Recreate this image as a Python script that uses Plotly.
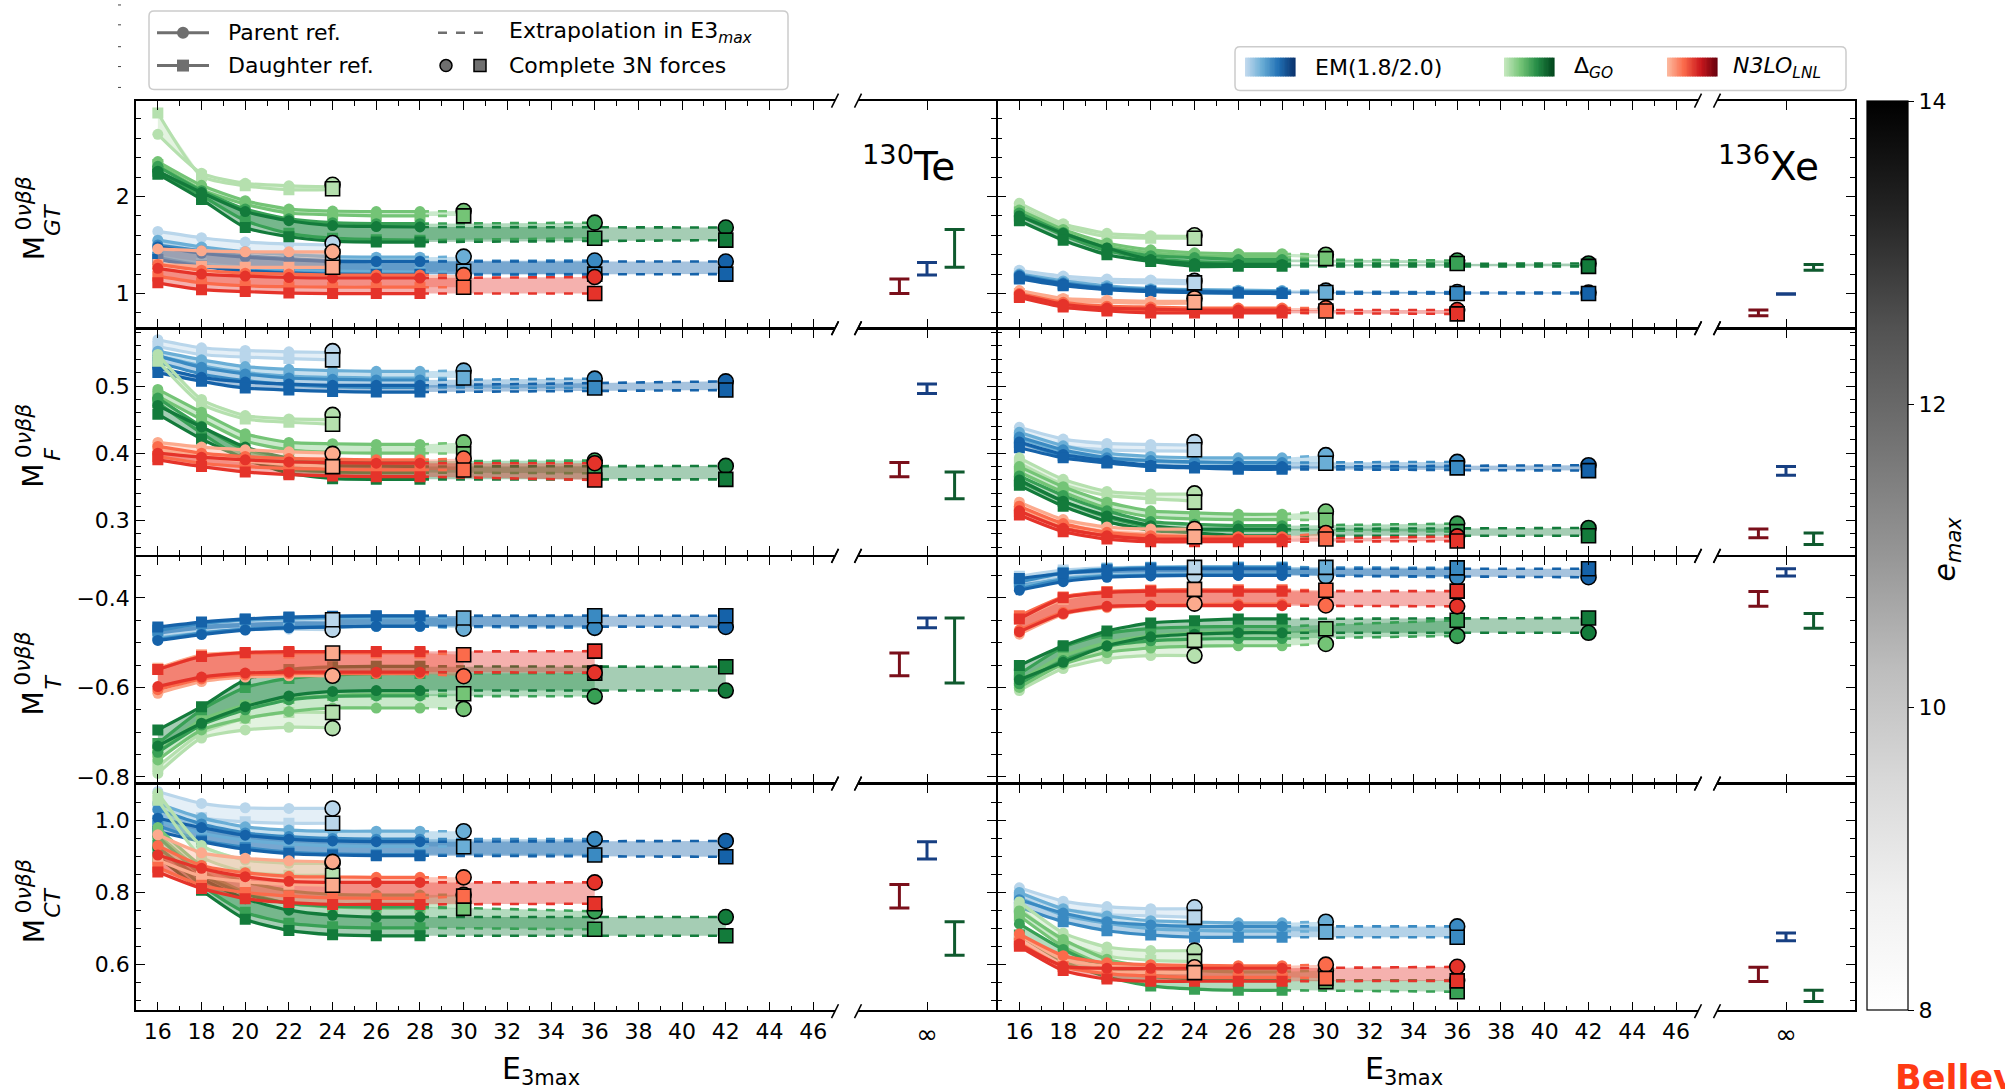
import plotly.graph_objects as go

W, H = 2005, 1089
FONT = "DejaVu Sans"

# ---------------- data ----------------
E3_GRID = [16, 18, 20, 22, 24, 26, 28]
EMAX_VALUES = [8, 10, 12, 14]

# 130Te  M_GT
TE_GT_EM_P = [[1.64, 1.575, 1.53, 1.51, 1.50],
              [1.55, 1.48, 1.43, 1.40, 1.38, 1.375, 1.375],
              [1.50, 1.44, 1.39, 1.36, 1.34, 1.335, 1.335],
              [1.48, 1.415, 1.375, 1.35, 1.33, 1.33, 1.33]]
TE_GT_EM_D = [[1.50, 1.45, 1.42, 1.40, 1.39],
              [1.38, 1.31, 1.27, 1.24, 1.23, 1.225, 1.22],
              [1.37, 1.29, 1.24, 1.215, 1.205, 1.20, 1.20],
              [1.35, 1.28, 1.23, 1.21, 1.195, 1.195, 1.195]]
TE_GT_EM_CP = [1.52, 1.38, 1.34, 1.33]
TE_GT_EM_CD = [1.38, 1.23, 1.20, 1.20]
TE_GT_GO_P = [[2.64, 2.24, 2.135, 2.11, 2.10],
              [2.36, 2.115, 1.956, 1.87, 1.85, 1.845, 1.845],
              [2.31, 2.06, 1.87, 1.77, 1.73, 1.72, 1.72],
              [2.26, 2.04, 1.845, 1.75, 1.70, 1.69, 1.686]]
TE_GT_GO_D = [[2.86, 2.21, 2.11, 2.07, 2.07],
              [2.33, 2.07, 1.92, 1.83, 1.81, 1.80, 1.80],
              [2.26, 2.01, 1.75, 1.62, 1.57, 1.555, 1.55],
              [2.23, 1.97, 1.68, 1.585, 1.54, 1.53, 1.53]]
TE_GT_GO_CP = [2.12, 1.85, 1.73, 1.68]
TE_GT_GO_CD = [2.08, 1.80, 1.57, 1.55]
TE_GT_LNL_P = [[1.46, 1.44, 1.43, 1.43, 1.43],
               [1.30, 1.24, 1.21, 1.20, 1.19, 1.19, 1.19],
               [1.26, 1.20, 1.18, 1.165, 1.16, 1.16, 1.16]]
TE_GT_LNL_D = [[1.30, 1.28, 1.27, 1.27, 1.27],
               [1.18, 1.11, 1.08, 1.07, 1.065, 1.065, 1.065],
               [1.11, 1.04, 1.02, 1.005, 1.0, 1.0, 1.0]]
TE_GT_LNL_CP = [1.43, 1.19, 1.17]
TE_GT_LNL_CD = [1.27, 1.065, 1.0]
TE_GT_INF = [[1.00, 1.15], [1.19, 1.32], [1.27, 1.66]]

# 136Xe  M_GT
XE_GT_EM_P = [[1.24, 1.18, 1.15, 1.14, 1.13],
              [1.20, 1.13, 1.08, 1.05, 1.04, 1.035, 1.03],
              [1.19, 1.11, 1.06, 1.04, 1.03, 1.02, 1.02],
              [1.18, 1.10, 1.05, 1.03, 1.02, 1.015, 1.01]]
XE_GT_EM_D = [[1.21, 1.15, 1.12, 1.11, 1.10],
              [1.17, 1.10, 1.06, 1.03, 1.02, 1.015, 1.01],
              [1.16, 1.09, 1.045, 1.025, 1.01, 1.005, 1.0],
              [1.15, 1.08, 1.04, 1.02, 1.01, 1.005, 1.0]]
XE_GT_EM_CP = [1.13, 1.03, 1.015, 1.01]
XE_GT_EM_CD = [1.11, 1.01, 1.0, 1.0]
XE_GT_GO_P = [[1.93, 1.72, 1.62, 1.595, 1.59],
              [1.86, 1.66, 1.52, 1.45, 1.42, 1.41, 1.41],
              [1.83, 1.63, 1.47, 1.39, 1.37, 1.35, 1.35],
              [1.80, 1.62, 1.47, 1.35, 1.31, 1.30, 1.30]]
XE_GT_GO_D = [[1.89, 1.69, 1.585, 1.57, 1.57],
              [1.84, 1.63, 1.49, 1.42, 1.39, 1.38, 1.38],
              [1.80, 1.60, 1.44, 1.36, 1.33, 1.32, 1.32],
              [1.75, 1.55, 1.40, 1.33, 1.28, 1.28, 1.28]]
XE_GT_GO_CP = [1.60, 1.40, 1.34, 1.31]
XE_GT_GO_CD = [1.57, 1.36, 1.31, 1.28]
XE_GT_LNL_P = [[1.03, 0.95, 0.93, 0.92, 0.92],
               [1.00, 0.91, 0.87, 0.86, 0.85, 0.85, 0.85],
               [0.99, 0.89, 0.85, 0.84, 0.83, 0.83, 0.83]]
XE_GT_LNL_D = [[1.00, 0.93, 0.91, 0.90, 0.90],
               [0.97, 0.88, 0.84, 0.83, 0.82, 0.82, 0.82],
               [0.96, 0.86, 0.82, 0.80, 0.80, 0.80, 0.80]]
XE_GT_LNL_CP = [0.95, 0.85, 0.83]
XE_GT_LNL_CD = [0.91, 0.82, 0.79]
XE_GT_INF = [[0.77, 0.83], [0.992, 0.998], [1.24, 1.30]]

# 130Te  M_F
TE_F_EM_P = [[0.569, 0.557, 0.553, 0.551, 0.550],
             [0.552, 0.539, 0.529, 0.525, 0.523, 0.522, 0.522],
             [0.545, 0.528, 0.518, 0.512, 0.510, 0.509, 0.509],
             [0.527, 0.513, 0.506, 0.503, 0.501, 0.501, 0.501]]
TE_F_EM_D = [[0.559, 0.547, 0.543, 0.541, 0.539],
             [0.545, 0.530, 0.520, 0.515, 0.513, 0.512, 0.512],
             [0.535, 0.518, 0.508, 0.502, 0.499, 0.498, 0.498],
             [0.520, 0.507, 0.497, 0.494, 0.492, 0.491, 0.491]]
TE_F_EM_CP = [0.552, 0.523, 0.511, 0.507]
TE_F_EM_CD = [0.539, 0.512, 0.497, 0.494]
TE_F_GO_P = [[0.547, 0.480, 0.456, 0.451, 0.450],
             [0.495, 0.461, 0.429, 0.416, 0.414, 0.413, 0.413],
             [0.482, 0.440, 0.405, 0.393, 0.389, 0.388, 0.388],
             [0.471, 0.439, 0.409, 0.392, 0.382, 0.381, 0.380]]
TE_F_GO_D = [[0.537, 0.473, 0.451, 0.446, 0.443],
             [0.485, 0.450, 0.418, 0.405, 0.401, 0.400, 0.400],
             [0.475, 0.430, 0.390, 0.376, 0.372, 0.371, 0.371],
             [0.458, 0.421, 0.392, 0.370, 0.362, 0.361, 0.361]]
TE_F_GO_CP = [0.457, 0.416, 0.389, 0.381]
TE_F_GO_CD = [0.443, 0.399, 0.370, 0.361]
TE_F_LNL_P = [[0.416, 0.409, 0.405, 0.402, 0.400],
              [0.410, 0.400, 0.395, 0.392, 0.391, 0.390, 0.390],
              [0.400, 0.394, 0.390, 0.387, 0.386, 0.385, 0.385]]
TE_F_LNL_D = [[0.405, 0.395, 0.388, 0.383, 0.380],
              [0.395, 0.385, 0.380, 0.377, 0.376, 0.375, 0.375],
              [0.390, 0.380, 0.372, 0.368, 0.366, 0.365, 0.365]]
TE_F_LNL_CP = [0.399, 0.392, 0.385]
TE_F_LNL_CD = [0.380, 0.375, 0.360]
TE_F_INF = [[0.365, 0.386], [0.489, 0.503], [0.332, 0.372]]

# 136Xe  M_F
XE_F_EM_P = [[0.4385, 0.421, 0.4145, 0.413, 0.412],
             [0.431, 0.411, 0.400, 0.395, 0.393, 0.393, 0.393],
             [0.424, 0.405, 0.393, 0.389, 0.387, 0.386, 0.386],
             [0.4165, 0.398, 0.389, 0.382, 0.380, 0.380, 0.380]]
XE_F_EM_D = [[0.4275, 0.411, 0.405, 0.4035, 0.403],
             [0.422, 0.403, 0.392, 0.388, 0.386, 0.385, 0.385],
             [0.416, 0.396, 0.386, 0.381, 0.379, 0.378, 0.378],
             [0.408, 0.393, 0.3855, 0.380, 0.378, 0.376, 0.376]]
XE_F_EM_CP = [0.4165, 0.397, 0.387, 0.382]
XE_F_EM_CD = [0.405, 0.385, 0.378, 0.374]
XE_F_GO_P = [[0.393, 0.361, 0.343, 0.339, 0.339],
             [0.380, 0.350, 0.327, 0.314, 0.311, 0.309, 0.309],
             [0.366, 0.337, 0.314, 0.298, 0.294, 0.292, 0.292],
             [0.360, 0.3285, 0.3065, 0.292, 0.287, 0.287, 0.287]]
XE_F_GO_D = [[0.385, 0.353, 0.337, 0.332, 0.329],
             [0.372, 0.342, 0.318, 0.305, 0.302, 0.301, 0.301],
             [0.358, 0.328, 0.305, 0.290, 0.286, 0.285, 0.285],
             [0.352, 0.321, 0.298, 0.285, 0.281, 0.277, 0.277]]
XE_F_GO_CP = [0.340, 0.313, 0.295, 0.2885]
XE_F_GO_CD = [0.327, 0.300, 0.283, 0.277]
XE_F_LNL_P = [[0.327, 0.301, 0.290, 0.287, 0.287],
              [0.321, 0.295, 0.282, 0.277, 0.2755, 0.2755, 0.2755],
              [0.314, 0.288, 0.277, 0.272, 0.272, 0.272, 0.272]]
XE_F_LNL_D = [[0.318, 0.294, 0.283, 0.279, 0.277],
              [0.313, 0.289, 0.277, 0.273, 0.272, 0.272, 0.272],
              [0.308, 0.283, 0.272, 0.268, 0.268, 0.268, 0.268]]
XE_F_LNL_CP = [0.287, 0.281, 0.276]
XE_F_LNL_CD = [0.2755, 0.272, 0.269]
XE_F_INF = [[0.274, 0.287], [0.367, 0.380], [0.264, 0.281]]

# 130Te  M_T
TE_T_EM_P = [[-0.486, -0.475, -0.470, -0.470, -0.471],
             [-0.490, -0.478, -0.471, -0.467, -0.465, -0.463, -0.463],
             [-0.493, -0.479, -0.470, -0.466, -0.465, -0.464, -0.464],
             [-0.495, -0.482, -0.472, -0.467, -0.465, -0.463, -0.463]]
TE_T_EM_D = [[-0.467, -0.456, -0.452, -0.449, -0.449],
             [-0.470, -0.458, -0.450, -0.447, -0.445, -0.444, -0.444],
             [-0.473, -0.457, -0.448, -0.444, -0.442, -0.441, -0.441],
             [-0.465, -0.454, -0.447, -0.443, -0.441, -0.440, -0.440]]
TE_T_EM_CP = [-0.471, -0.469, -0.467, -0.465]
TE_T_EM_CD = [-0.449, -0.445, -0.440, -0.440]
TE_T_GO_P = [[-0.792, -0.713, -0.695, -0.689, -0.690],
             [-0.762, -0.695, -0.669, -0.654, -0.646, -0.646, -0.646],
             [-0.745, -0.684, -0.650, -0.628, -0.620, -0.619, -0.619],
             [-0.731, -0.680, -0.643, -0.619, -0.609, -0.607, -0.607]]
TE_T_GO_D = [[-0.777, -0.702, -0.669, -0.656, -0.656],
             [-0.745, -0.672, -0.640, -0.625, -0.618, -0.615, -0.615],
             [-0.725, -0.650, -0.600, -0.580, -0.572, -0.569, -0.569],
             [-0.695, -0.643, -0.583, -0.560, -0.554, -0.553, -0.553]]
TE_T_GO_CP = [-0.691, -0.648, -0.620, -0.607]
TE_T_GO_CD = [-0.656, -0.614, -0.568, -0.554]
TE_T_LNL_P = [[-0.613, -0.587, -0.577, -0.574, -0.574],
              [-0.605, -0.581, -0.572, -0.569, -0.569, -0.569, -0.569],
              [-0.598, -0.577, -0.568, -0.566, -0.566, -0.566, -0.566]]
TE_T_LNL_D = [[-0.557, -0.527, -0.522, -0.522, -0.523],
              [-0.560, -0.530, -0.524, -0.523, -0.523, -0.523, -0.523],
              [-0.560, -0.531, -0.522, -0.520, -0.520, -0.520, -0.520]]
TE_T_LNL_CP = [-0.574, -0.575, -0.567]
TE_T_LNL_CD = [-0.523, -0.527, -0.519]
TE_T_INF = [[-0.574, -0.523], [-0.467, -0.445], [-0.590, -0.445]]

# 136Xe  M_T
XE_T_EM_P = [[-0.365, -0.352, -0.348, -0.347, -0.347],
             [-0.375, -0.357, -0.350, -0.348, -0.347, -0.347, -0.347],
             [-0.380, -0.360, -0.352, -0.350, -0.349, -0.349, -0.349],
             [-0.383, -0.364, -0.354, -0.351, -0.350, -0.350, -0.350]]
XE_T_EM_D = [[-0.352, -0.338, -0.333, -0.331, -0.331],
             [-0.362, -0.343, -0.335, -0.332, -0.331, -0.331, -0.331],
             [-0.365, -0.345, -0.336, -0.333, -0.332, -0.332, -0.332],
             [-0.357, -0.345, -0.338, -0.335, -0.335, -0.335, -0.335]]
XE_T_EM_CP = [-0.352, -0.352, -0.354, -0.354]
XE_T_EM_CD = [-0.332, -0.332, -0.333, -0.335]
XE_T_GO_P = [[-0.607, -0.558, -0.536, -0.529, -0.529],
             [-0.600, -0.548, -0.522, -0.512, -0.508, -0.507, -0.507],
             [-0.592, -0.540, -0.508, -0.496, -0.492, -0.491, -0.491],
             [-0.583, -0.544, -0.507, -0.487, -0.481, -0.478, -0.478]]
XE_T_GO_D = [[-0.592, -0.544, -0.515, -0.500, -0.495],
             [-0.585, -0.530, -0.500, -0.485, -0.478, -0.476, -0.476],
             [-0.570, -0.510, -0.480, -0.468, -0.465, -0.464, -0.464],
             [-0.551, -0.507, -0.474, -0.456, -0.451, -0.447, -0.447]]
XE_T_GO_CP = [-0.529, -0.503, -0.485, -0.478]
XE_T_GO_CD = [-0.495, -0.469, -0.450, -0.445]
XE_T_LNL_P = [[-0.481, -0.437, -0.422, -0.417, -0.415],
              [-0.472, -0.432, -0.420, -0.416, -0.415, -0.414, -0.414],
              [-0.476, -0.435, -0.419, -0.4175, -0.4175, -0.4175, -0.4175]]
XE_T_LNL_D = [[-0.447, -0.403, -0.386, -0.383, -0.381],
              [-0.440, -0.398, -0.386, -0.383, -0.382, -0.382, -0.382],
              [-0.447, -0.400, -0.388, -0.385, -0.385, -0.385, -0.385]]
XE_T_LNL_CP = [-0.413, -0.417, -0.419]
XE_T_LNL_CD = [-0.381, -0.383, -0.385]
XE_T_INF = [[-0.419, -0.386], [-0.351, -0.335], [-0.468, -0.435]]

# 130Te  M_CT
TE_CT_EM_P = [[1.080, 1.047, 1.035, 1.033, 1.033],
              [1.047, 1.007, 0.982, 0.973, 0.970, 0.970, 0.970],
              [1.030, 0.990, 0.965, 0.955, 0.950, 0.948, 0.948],
              [1.006, 0.980, 0.959, 0.948, 0.943, 0.941, 0.941]]
TE_CT_EM_D = [[1.038, 1.007, 0.996, 0.992, 0.992],
              [1.000, 0.965, 0.945, 0.935, 0.930, 0.928, 0.928],
              [0.985, 0.945, 0.925, 0.912, 0.907, 0.905, 0.905],
              [0.969, 0.941, 0.920, 0.908, 0.904, 0.902, 0.902]]
TE_CT_EM_CP = [1.033, 0.970, 0.948, 0.943]
TE_CT_EM_CD = [0.992, 0.927, 0.904, 0.899]
TE_CT_GO_P = [[1.075, 0.930, 0.890, 0.881, 0.881],
              [0.980, 0.875, 0.830, 0.805, 0.795, 0.793, 0.793],
              [0.955, 0.850, 0.795, 0.770, 0.762, 0.760, 0.760],
              [0.924, 0.839, 0.783, 0.751, 0.737, 0.732, 0.732]]
TE_CT_GO_D = [[1.056, 0.899, 0.857, 0.848, 0.848],
              [0.960, 0.860, 0.800, 0.770, 0.760, 0.757, 0.757],
              [0.930, 0.820, 0.745, 0.715, 0.705, 0.702, 0.702],
              [0.899, 0.806, 0.726, 0.695, 0.683, 0.680, 0.680]]
TE_CT_GO_CP = [0.881, 0.794, 0.748, 0.732]
TE_CT_GO_CD = [0.848, 0.756, 0.698, 0.680]
TE_CT_LNL_P = [[0.960, 0.910, 0.895, 0.888, 0.885],
               [0.930, 0.875, 0.855, 0.845, 0.843, 0.842, 0.842],
               [0.904, 0.867, 0.844, 0.831, 0.828, 0.828, 0.828]]
TE_CT_LNL_D = [[0.890, 0.845, 0.830, 0.823, 0.820],
               [0.870, 0.820, 0.800, 0.790, 0.785, 0.784, 0.784],
               [0.857, 0.811, 0.783, 0.772, 0.767, 0.767, 0.767]]
TE_CT_LNL_CP = [0.885, 0.842, 0.828]
TE_CT_LNL_CD = [0.820, 0.790, 0.769]
TE_CT_INF = [[0.757, 0.822], [0.893, 0.941], [0.626, 0.719]]

# 136Xe  M_CT
XE_CT_EM_P = [[0.813, 0.776, 0.761, 0.755, 0.755],
              [0.800, 0.755, 0.735, 0.722, 0.718, 0.716, 0.716],
              [0.780, 0.743, 0.719, 0.710, 0.706, 0.706, 0.706]]
XE_CT_EM_D = [[0.792, 0.755, 0.739, 0.735, 0.731],
              [0.785, 0.738, 0.715, 0.700, 0.695, 0.693, 0.693],
              [0.759, 0.719, 0.694, 0.682, 0.676, 0.676, 0.676]]
XE_CT_EM_CP = [0.759, 0.719, 0.706]
XE_CT_EM_CD = [0.731, 0.691, 0.676]
XE_CT_GO_P = [[0.774, 0.688, 0.649, 0.639, 0.639],
              [0.749, 0.670, 0.615, 0.593, 0.584, 0.580, 0.580],
              [0.713, 0.642, 0.590, 0.568, 0.560, 0.556, 0.556]]
XE_CT_GO_D = [[0.755, 0.666, 0.624, 0.612, 0.609],
              [0.735, 0.650, 0.595, 0.572, 0.562, 0.558, 0.558],
              [0.682, 0.609, 0.566, 0.541, 0.532, 0.529, 0.529]]
XE_CT_GO_CP = [0.639, 0.584, 0.557]
XE_CT_GO_CD = [0.609, 0.553, 0.525]
XE_CT_LNL_P = [[0.682, 0.615, 0.596, 0.593, 0.593],
               [0.685, 0.625, 0.605, 0.600, 0.598, 0.597, 0.597],
               [0.657, 0.596, 0.590, 0.590, 0.590, 0.590, 0.590]]
XE_CT_LNL_D = [[0.664, 0.596, 0.580, 0.578, 0.578],
               [0.660, 0.595, 0.575, 0.568, 0.565, 0.565, 0.565],
               [0.651, 0.584, 0.560, 0.554, 0.554, 0.554, 0.554]]
XE_CT_LNL_CP = [0.593, 0.600, 0.594]
XE_CT_LNL_CD = [0.578, 0.562, 0.555]
XE_CT_INF = [[0.553, 0.593], [0.666, 0.688], [0.498, 0.529]]

ROW_LABELS = ["GT", "F", "T", "CT"]
NUCLEI = ["<sup>130</sup>Te", "<sup>136</sup>Xe"]
INF_POS = [-0.4, 0.0, 0.4]
CBAR_TICKS = [8, 10, 12, 14]

# ---------------- styles ----------------
BLUES = ['#b9d6eb', '#6aaed6', '#3a8ac2', '#1562a9']
GREENS = ['#b5e0ae', '#74c476', '#38a055', '#137b3b']
REDS = ['#fcaa8d', '#fb6b4b', '#e5332a']
INF_COLORS = ['#7a0f1a', '#173f82', '#0f5a2e']
GREYS = [[0, '#ffffff'], [0.125, '#f0f0f0'], [0.25, '#d9d9d9'], [0.375, '#bdbdbd'],
         [0.5, '#969696'], [0.625, '#737373'], [0.75, '#525252'], [0.875, '#252525'], [1, '#000000']]

YR = [[0.65, 2.98], [0.248, 0.585], [-0.813, -0.308], [0.473, 1.10]]
YTICK = [(1.0, 0.2, ''), (0.1, 0.02, '.1f'), (0.2, 0.05, '.1f'), (0.2, 0.05, '.1f')]

LW = 1.5                      # spine width
ROW_H = (1017 - 102 - 3 * LW) / 4
ROW_TOP = [102 + r * (ROW_H + LW) for r in range(4)]
MAIN_X = [(136, 835), (996 + LW, 1698)]
INF_X = [(858, 996), (1717, 1855)]

PANELS = [
    (0, 0, [(TE_GT_EM_P, TE_GT_EM_D, TE_GT_EM_CP, TE_GT_EM_CD), (TE_GT_GO_P, TE_GT_GO_D, TE_GT_GO_CP, TE_GT_GO_CD), (TE_GT_LNL_P, TE_GT_LNL_D, TE_GT_LNL_CP, TE_GT_LNL_CD)], TE_GT_INF),
    (0, 1, [(XE_GT_EM_P, XE_GT_EM_D, XE_GT_EM_CP, XE_GT_EM_CD), (XE_GT_GO_P, XE_GT_GO_D, XE_GT_GO_CP, XE_GT_GO_CD), (XE_GT_LNL_P, XE_GT_LNL_D, XE_GT_LNL_CP, XE_GT_LNL_CD)], XE_GT_INF),
    (1, 0, [(TE_F_EM_P, TE_F_EM_D, TE_F_EM_CP, TE_F_EM_CD), (TE_F_GO_P, TE_F_GO_D, TE_F_GO_CP, TE_F_GO_CD), (TE_F_LNL_P, TE_F_LNL_D, TE_F_LNL_CP, TE_F_LNL_CD)], TE_F_INF),
    (1, 1, [(XE_F_EM_P, XE_F_EM_D, XE_F_EM_CP, XE_F_EM_CD), (XE_F_GO_P, XE_F_GO_D, XE_F_GO_CP, XE_F_GO_CD), (XE_F_LNL_P, XE_F_LNL_D, XE_F_LNL_CP, XE_F_LNL_CD)], XE_F_INF),
    (2, 0, [(TE_T_EM_P, TE_T_EM_D, TE_T_EM_CP, TE_T_EM_CD), (TE_T_GO_P, TE_T_GO_D, TE_T_GO_CP, TE_T_GO_CD), (TE_T_LNL_P, TE_T_LNL_D, TE_T_LNL_CP, TE_T_LNL_CD)], TE_T_INF),
    (2, 1, [(XE_T_EM_P, XE_T_EM_D, XE_T_EM_CP, XE_T_EM_CD), (XE_T_GO_P, XE_T_GO_D, XE_T_GO_CP, XE_T_GO_CD), (XE_T_LNL_P, XE_T_LNL_D, XE_T_LNL_CP, XE_T_LNL_CD)], XE_T_INF),
    (3, 0, [(TE_CT_EM_P, TE_CT_EM_D, TE_CT_EM_CP, TE_CT_EM_CD), (TE_CT_GO_P, TE_CT_GO_D, TE_CT_GO_CP, TE_CT_GO_CD), (TE_CT_LNL_P, TE_CT_LNL_D, TE_CT_LNL_CP, TE_CT_LNL_CD)], TE_CT_INF),
    (3, 1, [(XE_CT_EM_P, XE_CT_EM_D, XE_CT_EM_CP, XE_CT_EM_CD), (XE_CT_GO_P, XE_CT_GO_D, XE_CT_GO_CP, XE_CT_GO_CD), (XE_CT_LNL_P, XE_CT_LNL_D, XE_CT_LNL_CP, XE_CT_LNL_CD)], XE_CT_INF),
]
PALETTES = [BLUES, GREENS, REDS]


def px(x):
    return x / W


def py(y):
    return 1 - y / H


def rgba(hexc, a):
    hexc = hexc.lstrip('#')
    r, g, b = int(hexc[0:2], 16), int(hexc[2:4], 16), int(hexc[4:6], 16)
    return f'rgba({r},{g},{b},{a})'


def mix(c0, c1, t):
    a = [int(c0[i:i + 2], 16) for i in (1, 3, 5)]
    b = [int(c1[i:i + 2], 16) for i in (1, 3, 5)]
    return '#' + ''.join(f'{round(a[i] + (b[i] - a[i]) * t):02x}' for i in range(3))


def ax(i):
    return '' if i == 1 else str(i)


fig = go.Figure()
layout = dict(width=W, height=H, margin=dict(l=0, r=0, t=0, b=0), autosize=False,
              paper_bgcolor='white', plot_bgcolor='rgba(0,0,0,0)', showlegend=False,
              font=dict(family=FONT, color='black', size=22), hovermode=False)

tickfont = dict(family=FONT, size=22, color='black')

for r in range(4):
    y0p, y1p = ROW_TOP[r], ROW_TOP[r] + ROW_H
    dt, mdt, fmt = YTICK[r]
    for c in range(2):
        im = r * 4 + c * 2 + 1
        ii = im + 1
        mx0, mx1 = MAIN_X[c]
        ix0, ix1 = INF_X[c]
        common_y = dict(domain=[py(y1p), py(y0p)], range=YR[r], tickmode='linear', tick0=0, dtick=dt,
                        tickformat=fmt, ticks='inside', ticklen=9, tickwidth=1.3, tickcolor='black',
                        minor=dict(ticks='inside', ticklen=5, tickwidth=1.1, tickcolor='black', dtick=mdt, tick0=0),
                        showline=True, linecolor='black', linewidth=LW, showgrid=False, zeroline=False,
                        tickfont=tickfont, fixedrange=True)
        layout['xaxis' + ax(im)] = dict(domain=[px(mx0), px(mx1)], anchor='y' + ax(im), range=[15, 47],
                                        tickmode='linear', tick0=16, dtick=2, ticks='inside', ticklen=9,
                                        tickwidth=1.3, tickcolor='black',
                                        minor=dict(ticks='inside', ticklen=5, tickwidth=1.1, tickcolor='black', dtick=1, tick0=15),
                                        showline=True, linecolor='black', linewidth=LW, mirror='ticks',
                                        showgrid=False, zeroline=False, showticklabels=(r == 3),
                                        tickfont=tickfont, fixedrange=True)
        ym = dict(common_y)
        ym.update(anchor='x' + ax(im), side='left', showticklabels=(c == 0), mirror=False)
        layout['yaxis' + ax(im)] = ym
        layout['xaxis' + ax(ii)] = dict(domain=[px(ix0), px(ix1)], anchor='y' + ax(ii), range=[-1, 1],
                                        tickmode='array', tickvals=[0], ticktext=['∞'], ticks='inside',
                                        ticklen=9, tickwidth=1.3, tickcolor='black', showline=True,
                                        linecolor='black', linewidth=LW, mirror='ticks', showgrid=False,
                                        zeroline=False, showticklabels=(r == 3),
                                        tickfont=dict(family=FONT, size=26, color='black'), fixedrange=True)
        yi = dict(common_y)
        yi.update(anchor='x' + ax(ii), side='right', showticklabels=False, mirror=False)
        layout['yaxis' + ax(ii)] = yi

# ---------------- traces ----------------
for (r, c, series, inf) in PANELS:
    im = r * 4 + c * 2 + 1
    ii = im + 1
    xa, ya = 'x' + ax(im), 'y' + ax(im)
    completes = []
    for s_idx, (P, D, CP, CD) in enumerate(series):
        pal = PALETTES[s_idx]
        for k in range(len(P)):
            xe = 3 * EMAX_VALUES[k]
            xs = E3_GRID[:len(P[k])]
            bx, bp, bd = list(xs), list(P[k]), list(D[k])
            if xe > xs[-1]:
                bx.append(xe); bp.append(CP[k]); bd.append(CD[k])
            fig.add_trace(go.Scatter(x=bx + bx[::-1], y=bp + bd[::-1], mode='lines', fill='toself',
                                     fillcolor=rgba(pal[k], 0.38), line=dict(width=0),
                                     xaxis=xa, yaxis=ya, hoverinfo='skip'))
        for k in range(len(P)):
            xe = 3 * EMAX_VALUES[k]
            xs = E3_GRID[:len(P[k])]
            col = pal[k]
            for vals, cval, sym in ((P[k], CP[k], 'circle'), (D[k], CD[k], 'square')):
                if xe > xs[-1]:
                    fig.add_trace(go.Scatter(x=[xs[-1], xe], y=[vals[-1], cval], mode='lines',
                                             line=dict(color=col, width=2.6, dash='dash'),
                                             xaxis=xa, yaxis=ya, hoverinfo='skip'))
                fig.add_trace(go.Scatter(x=xs, y=vals, mode='lines+markers',
                                         line=dict(color=col, width=3.2, shape='spline', smoothing=0.6),
                                         marker=dict(symbol=sym, size=11, color=col, line=dict(width=0)),
                                         xaxis=xa, yaxis=ya, hoverinfo='skip'))
            completes.append((xe, CP[k], CD[k], col))
    for (xe, cp, cd, col) in completes:
        fig.add_trace(go.Scatter(x=[xe], y=[cp], mode='markers',
                                 marker=dict(symbol='circle', size=15, color=col, line=dict(width=1.6, color='black')),
                                 xaxis=xa, yaxis=ya, hoverinfo='skip'))
        fig.add_trace(go.Scatter(x=[xe], y=[cd], mode='markers',
                                 marker=dict(symbol='square', size=14, color=col, line=dict(width=1.6, color='black')),
                                 xaxis=xa, yaxis=ya, hoverinfo='skip'))
    for j, (lo, hi) in enumerate(inf):
        mid = (lo + hi) / 2
        fig.add_trace(go.Scatter(x=[INF_POS[j]], y=[mid], mode='markers',
                                 marker=dict(size=1, color='rgba(0,0,0,0)'),
                                 error_y=dict(type='data', symmetric=False, array=[hi - mid], arrayminus=[mid - lo],
                                              color=INF_COLORS[j], thickness=3, width=10),
                                 xaxis='x' + ax(ii), yaxis='y' + ax(ii), hoverinfo='skip'))

# colorbar carrier (points outside visible range)
cbar = dict(x=px(1867), xanchor='left', y=py(102), yanchor='top',
            len=(1017 - 102) / H, lenmode='fraction', thickness=41,
            thicknessmode='pixels', outlinewidth=1.2, outlinecolor='black',
            tickmode='array', tickvals=CBAR_TICKS, ticks='outside', ticklen=6,
            tickwidth=1.2, tickcolor='black', xpad=0, ypad=0,
            tickfont=dict(family=FONT, size=22, color='black'))
fig.add_trace(go.Scatter(x=[5, 5], y=[1, 1], mode='markers', xaxis='x2', yaxis='y2', hoverinfo='skip',
                         marker=dict(size=1, color=[CBAR_TICKS[0], CBAR_TICKS[-1]], cmin=8, cmax=14,
                                     colorscale=GREYS, showscale=True, colorbar=cbar)))

# ---------------- decorations ----------------
shapes = []
ann = []


def line_px(x0, y0, x1, y1, color='black', width=1.5, dash=None):
    d = dict(type='line', xref='paper', yref='paper', x0=px(x0), y0=py(y0), x1=px(x1), y1=py(y1),
             line=dict(color=color, width=width), layer='above')
    if dash:
        d['line']['dash'] = dash
    shapes.append(d)


for r in range(4):
    for yb in (ROW_TOP[r] - LW / 2, ROW_TOP[r] + ROW_H + LW / 2):
        for c in range(2):
            for xb in (MAIN_X[c][1], INF_X[c][0]):
                line_px(xb - 3.5, yb + 7, xb + 3.5, yb - 7, width=1.6)

for yy in (5, 25, 47, 67, 88):
    line_px(118, yy, 121, yy, color='#444444', width=1)


def rounded_box(x0, y0, x1, y1, rad=5, edge='#cccccc'):
    X0, X1, Y0, Y1 = px(x0), px(x1), py(y0), py(y1)
    rx, ry = rad / W, rad / H
    path = (f'M {X0 + rx},{Y0} L {X1 - rx},{Y0} Q {X1},{Y0} {X1},{Y0 - ry} '
            f'L {X1},{Y1 + ry} Q {X1},{Y1} {X1 - rx},{Y1} L {X0 + rx},{Y1} Q {X0},{Y1} {X0},{Y1 + ry} '
            f'L {X0},{Y0 - ry} Q {X0},{Y0} {X0 + rx},{Y0} Z')
    shapes.append(dict(type='path', xref='paper', yref='paper', path=path, fillcolor='white',
                       line=dict(color=edge, width=1.5), layer='above'))


def circle_px(cx, cy, rad, fill, edge=None):
    shapes.append(dict(type='circle', xref='paper', yref='paper', x0=px(cx - rad), x1=px(cx + rad),
                       y0=py(cy + rad), y1=py(cy - rad), fillcolor=fill,
                       line=dict(color=edge or fill, width=1.5 if edge else 0), layer='above'))


def square_px(cx, cy, half, fill, edge=None):
    shapes.append(dict(type='rect', xref='paper', yref='paper', x0=px(cx - half), x1=px(cx + half),
                       y0=py(cy + half), y1=py(cy - half), fillcolor=fill,
                       line=dict(color=edge or fill, width=1.5 if edge else 0), layer='above'))


def text_px(x, y, text, size=22, xanchor='left', angle=0, color='black'):
    ann.append(dict(x=px(x), y=py(y), xref='paper', yref='paper', text=text, showarrow=False,
                    xanchor=xanchor, yanchor='middle', textangle=angle,
                    font=dict(family=FONT, size=size, color=color)))


GRAY = '#6f6f6f'
rounded_box(149, 11, 788, 90)
line_px(157, 33, 209, 33, color=GRAY, width=3)
circle_px(183, 33, 6, GRAY)
text_px(226, 33, 'Parent ref.')
line_px(157, 66, 209, 66, color=GRAY, width=3)
square_px(183, 66, 6, GRAY)
text_px(226, 66, 'Daughter ref.')
line_px(438, 33, 490, 33, color=GRAY, width=2.6, dash='dash')
text_px(507, 33, 'Extrapolation in E3<sub><i>max</i></sub>')
circle_px(446, 66, 6, GRAY, edge='black')
square_px(480, 66, 6, GRAY, edge='black')
text_px(507, 66, 'Complete 3N forces')

rounded_box(1235, 47, 1846, 91)
GRADS = [['#c6dbef', '#6baed6', '#2171b5', '#08306b'],
         ['#c7e9c0', '#74c476', '#238b45', '#00441b'],
         ['#fcbba1', '#fb6a4a', '#cb181d', '#67000d']]
for (gx, stops) in zip((1245, 1504, 1667), GRADS):
    n = 30
    for i in range(n):
        t = (i + 0.5) / n * (len(stops) - 1)
        j = min(int(t), len(stops) - 2)
        colr = mix(stops[j], stops[j + 1], t - j)
        shapes.append(dict(type='rect', xref='paper', yref='paper', x0=px(gx + 50 * i / n),
                           x1=px(gx + 50 * (i + 1) / n + 0.6), y0=py(77), y1=py(58), fillcolor=colr,
                           line=dict(width=0), layer='above'))
text_px(1313, 68, 'EM(1.8/2.0)')
text_px(1572, 68, 'Δ<sub><i>GO</i></sub>')
text_px(1731, 68, '<i>N3LO</i><sub><i>LNL</i></sub>')

# y-axis titles: M with stacked superscript / subscript, rotated
for r in range(4):
    yc = ROW_TOP[r] + ROW_H / 2
    sub = ROW_LABELS[r]
    sub_len = 14.5 * len(sub)
    text_px(34, yc + 34, 'M', size=28, xanchor='center', angle=-90)
    text_px(23, yc - 11, '0<i>νββ</i>', size=22, xanchor='center', angle=-90)
    text_px(53, yc + 20 - sub_len / 2, f'<i>{sub}</i>', size=22, xanchor='center', angle=-90)

text_px(860, 165, NUCLEI[0], size=39)
text_px(1716, 165, NUCLEI[1], size=39)

text_px(541, 1077, 'E<sub>3max</sub>', size=30, xanchor='center')
text_px(1404, 1077, 'E<sub>3max</sub>', size=30, xanchor='center')

text_px(1946, 553, '<i>e</i><sub><i>max</i></sub>', size=30, xanchor='center', angle=-90)

ann.append(dict(x=px(1893), y=py(1063), xref='paper', yref='paper', text='<b>Bellevue</b>', showarrow=False,
                xanchor='left', yanchor='top', font=dict(family=FONT, size=35, color='#ff3a14')))

layout['shapes'] = shapes
layout['annotations'] = ann
fig.update_layout(**layout)
fig.write_html('out.html')
